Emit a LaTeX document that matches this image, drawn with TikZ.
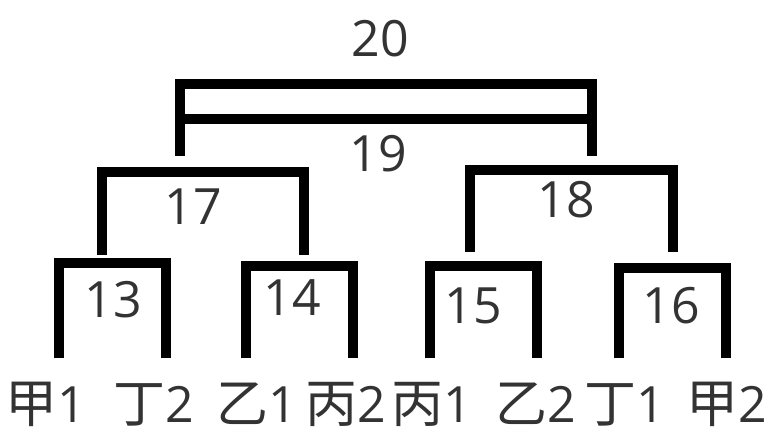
\documentclass[tikz,border=0pt]{standalone}
\usepackage{fontspec}
\setmainfont{Open Sans}
\newfontfamily\cjk{Noto Sans CJK JP}
\newcommand{\hz}[1]{{\cjk\fontsize{52}{60}\selectfont #1}}
\begin{document}
\begin{tikzpicture}[x=1pt,y=-1pt,
  br/.style={line width=10pt, line join=miter, line cap=butt, draw=black},
  lbl/.style={anchor=base, inner sep=0pt, text=black!80, font=\fontsize{50}{58}\selectfont}]
\useasboundingbox (0,0) rectangle (770,430);
% leaf labels
\node[lbl] (l1) at (46,422) {\hz{甲}1};
\node[lbl] (l2) at (154,422) {\hz{丁}2};
\node[lbl] (l3) at (257,422) {\hz{乙}1};
\node[lbl] (l4) at (346,422) {\hz{丙}2};
\node[lbl] (l5) at (432,422) {\hz{丙}1};
\node[lbl] (l6) at (536,422) {\hz{乙}2};
\node[lbl] (l7) at (625,422) {\hz{丁}1};
\node[lbl] (l8) at (727,422) {\hz{甲}2};
% merge labels
\node[lbl] (n13) at (113,317) {13};
\node[lbl] (n14) at (292,315) {14};
\node[lbl] (n15) at (473,323) {15};
\node[lbl] (n16) at (671,323) {16};
\node[lbl] (n17) at (193,225) {17};
\node[lbl] (n18) at (566,218) {18};
\node[lbl] (n19) at (378,172) {19};
\node[lbl] (n20) at (380,57) {20};
% bracket corner coordinates
\coordinate (a13) at (59,358);  \coordinate (b13) at (166,358);
\coordinate (a14) at (246,358); \coordinate (b14) at (353,358);
\coordinate (a15) at (430,358); \coordinate (b15) at (537,358);
\coordinate (a16) at (619,358); \coordinate (b16) at (726,358);
\coordinate (a17) at (102,255); \coordinate (b17) at (304,255);
\coordinate (a18) at (470,252); \coordinate (b18) at (673,252);
\coordinate (a20) at (180,156); \coordinate (b20) at (592,156);
% brackets
\draw[br] (a13) |- (112,263) -| (b13);
\draw[br] (a14) |- (300,266) -| (b14);
\draw[br] (a15) |- (484,266) -| (b15);
\draw[br] (a16) |- (672,268) -| (b16);
\draw[br] (a17) |- (203,172.5) -| (b17);
\draw[br] (a18) |- (571,170) -| (b18);
\draw[br] (a20) |- (386,84) -| (b20);
\draw[br] (180,119) -- (592,119);
\end{tikzpicture}
\end{document}
